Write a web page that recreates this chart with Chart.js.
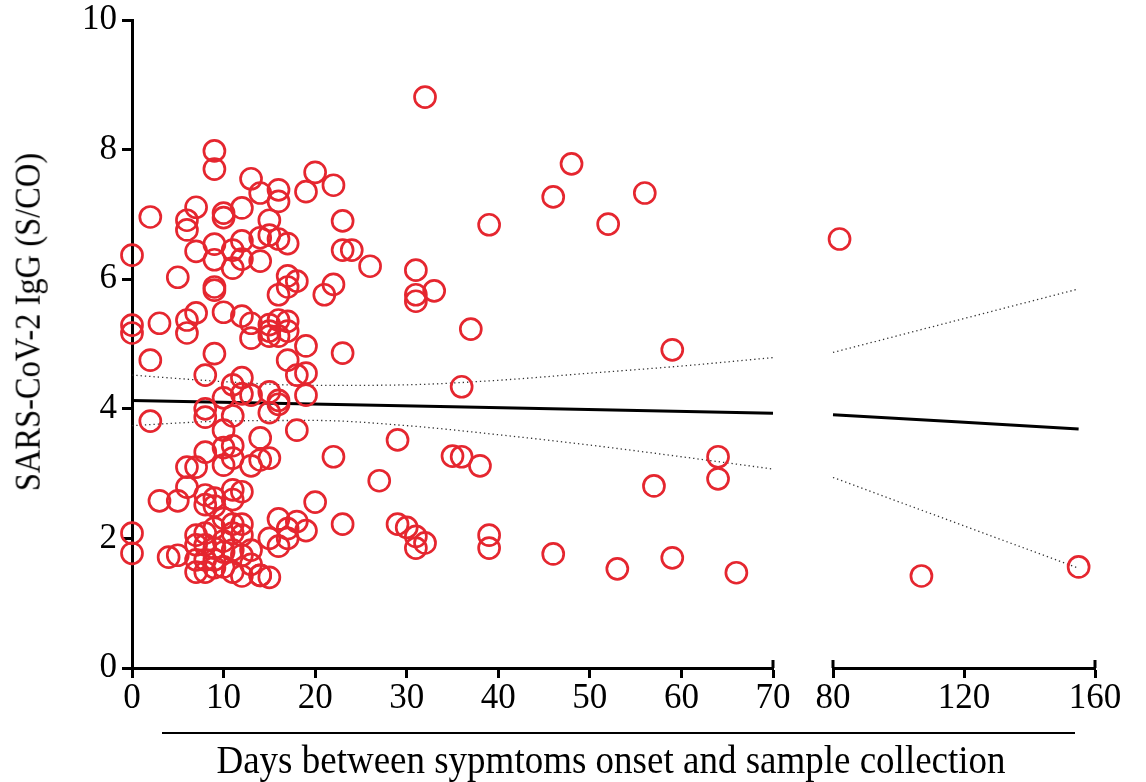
<!DOCTYPE html>
<html>
<head>
<meta charset="utf-8">
<script src="https://cdn.jsdelivr.net/npm/chart.js@4.4.1/dist/chart.umd.min.js"></script>
<style>
  html,body{margin:0;padding:0;background:#fff;}
  #wrap{position:relative;width:1146px;height:782px;background:#fff;overflow:hidden;font-family:"Liberation Serif","Times New Roman",serif;color:#000;}
  canvas{position:absolute;top:0;}
  #ytitle{position:absolute;left:28px;top:322px;white-space:nowrap;font-size:32.5px;transform:translate(-50%,-50%) rotate(-90deg) scaleY(1.1);}
  #rule{position:absolute;left:162px;top:732px;width:913px;height:2px;background:#000;}
  #xtitle{position:absolute;left:611px;top:759px;white-space:nowrap;font-size:37px;transform:translate(-50%,-50%) scaleY(1.1);}
</style>
</head>
<body>
<div id="wrap">
  <canvas id="c1" width="800" height="782" style="left:0"></canvas>
  <canvas id="c2" width="346" height="782" style="left:800px"></canvas>
  <div id="ytitle">SARS-CoV-2 IgG (S/CO)</div>
  <div id="rule"></div>
  <div id="xtitle">Days between sypmtoms onset and sample collection</div>
</div>
<script>
// Days between symptom onset and sample collection
const days = [
  9,9,0,2,6,7,6,10,10,12,13,14,16,16,20,19,22,23,23,24,26,21,22,
  9,7,9,11,12,12,14,14,15,17,16,15,5,9,9,10,11,16,17,17,18,
  0,0,3,6,6,7,2,9,12,13,13,15,15,15,16,16,17,17,19,17,18,19,23,
  37,36,59,32,39,46,48,56,52,31,31,31,33,
  2,8,8,8,10,11,12,12,13,11,10,8,6,7,10,10,11,11,13,14,14,15,15,15,16,16,18,19,22,29,27,35,36,38,64,64,57,
  3,5,6,8,9,8,9,11,11,12,20,0,0,4,5,
  7,7,7,7,8,8,8,8,9,9,9,9,10,10,10,10,11,11,11,11,12,12,12,12,13,13,14,14,15,15,16,16,17,17,18,19,23,29,30,31,31,32,39,39,46,53,59,66,
  82,107,155
];
// SARS-CoV-2 IgG (S/CO)
const igg = [
  7.98,7.70,6.37,6.96,6.91,7.11,6.76,7.02,6.95,7.10,7.55,7.33,7.38,7.20,7.65,7.35,7.45,6.90,6.45,6.45,6.20,5.76,5.92,
  6.54,6.43,6.30,6.45,6.59,6.31,6.28,6.64,6.68,6.55,6.62,6.91,6.03,5.83,5.88,5.49,6.17,5.76,5.88,6.05,5.97,
  5.29,5.17,5.32,5.37,5.17,5.48,4.75,4.85,5.43,5.32,5.09,5.30,5.20,5.12,5.37,5.12,5.35,5.20,4.97,4.75,4.52,4.55,4.86,
  5.23,4.34,4.91,8.81,6.84,7.27,7.78,7.33,6.85,6.14,5.76,5.66,5.82,
  3.81,4.52,4.00,3.87,4.17,4.37,4.48,4.23,4.21,3.89,3.67,3.33,3.10,3.10,3.40,3.13,3.24,3.43,3.12,3.55,3.21,3.24,4.26,3.94,4.07,4.13,3.67,4.21,3.26,3.52,2.89,3.27,3.26,3.12,3.26,2.92,2.81,
  2.58,2.58,2.79,2.52,2.50,2.67,2.62,2.60,2.75,2.72,2.56,2.08,1.77,1.71,1.74,
  2.05,1.90,1.67,1.48,2.08,1.90,1.67,1.48,2.16,1.85,1.67,1.55,2.31,1.96,1.79,1.56,2.22,2.08,1.82,1.48,2.22,2.05,1.74,1.42,1.82,1.60,1.43,1.43,1.40,2.00,2.30,1.88,2.15,2.00,2.26,2.12,2.22,2.22,2.17,2.03,1.85,1.93,2.05,1.85,1.76,1.53,1.70,1.47,
  6.62,1.42,1.56
];
// Linear fit and 95% confidence band
const fitDays   = [0, 70, 80, 155];
const fitValues = [4.13, 3.93, 3.91, 3.69];
const bandDaysLeft  = [0, 10, 20, 30, 40, 50, 60, 70];
const bandUpperLeft = [4.52, 4.42, 4.36, 4.37, 4.44, 4.55, 4.66, 4.79];
const bandLowerLeft = [3.74, 3.81, 3.82, 3.74, 3.60, 3.44, 3.26, 3.07];
const bandDaysRight  = [80, 155];
const bandUpperRight = [4.87, 5.85];
const bandLowerRight = [2.94, 1.54];
// Axis ticks
const xTicksLeft  = [0, 10, 20, 30, 40, 50, 60, 70];
const xTicksRight = [80, 120, 160];
const yTicks      = [0, 2, 4, 6, 8, 10];

const RED = '#E5262F';
const FONT = 'Liberation Serif';

const toPts = (xs, ys) => xs.map((x, i) => ({x, y: ys[i]}));
const allPts = toPts(days, igg);
const leftPts  = allPts.filter(p => p.x <= 70);
const rightPts = allPts.filter(p => p.x > 70);

function scatterSet(data){
  return {type:'scatter', data, showLine:false, pointStyle:'circle', pointRadius:10.5,
          pointBorderWidth:2.7, pointBorderColor:RED, pointBackgroundColor:'rgba(0,0,0,0)',
          clip:false, order:0};
}
function lineSet(data, solid){
  return {type:'scatter', data, showLine:true, pointRadius:0, borderColor: solid ? '#000' : '#333',
          borderWidth: solid ? 3 : 1.3, borderDash: solid ? [] : [1.3, 3], tension:0,
          cubicInterpolationMode:'monotone', clip:false, order:1};
}
// end caps of the broken x axis: short upward ticks at the segment ends
function capPlugin(values){
  return {id:'caps', afterDraw(chart){
    const s = chart.scales.x, ctx = chart.ctx, y0 = chart.chartArea.bottom;
    ctx.save(); ctx.strokeStyle = '#000'; ctx.lineWidth = 3;
    values.forEach(v => { const px = s.getPixelForValue(v);
      ctx.beginPath(); ctx.moveTo(px, y0 - 8); ctx.lineTo(px, y0); ctx.stroke(); });
    ctx.restore();
  }};
}
function xAxis(min, max, ticks){
  return {type:'linear', min, max, position:'bottom',
    afterBuildTicks: s => { s.ticks = ticks.map(v => ({value:v})); },
    afterFit: s => { s.height = 114; },
    ticks:{color:'#000', font:{family:FONT, size:35}, padding:0, maxRotation:0, autoSkip:false},
    grid:{display:true, drawOnChartArea:false, drawTicks:true, tickLength:10, tickColor:'#000', tickWidth:3},
    border:{display:true, color:'#000', width:3}};
}
const common = {
  responsive:false, animation:false, devicePixelRatio:1,
  plugins:{legend:{display:false}, tooltip:{enabled:false}},
  events:[]
};

new Chart(document.getElementById('c1'), {
  data:{datasets:[
    scatterSet(leftPts),
    lineSet(toPts(fitDays.slice(0,2), fitValues.slice(0,2)), true),
    lineSet(toPts(bandDaysLeft, bandUpperLeft), false),
    lineSet(toPts(bandDaysLeft, bandLowerLeft), false)
  ]},
  options:Object.assign({}, common, {
    layout:{padding:{left:0, right:27, top:20, bottom:0}},
    scales:{
      x: xAxis(0, 70, xTicksLeft),
      y: {type:'linear', min:0, max:10,
        afterBuildTicks: s => { s.ticks = yTicks.map(v => ({value:v})); },
        afterFit: s => { s.width = 132; s.paddingTop = 0; s.paddingBottom = 0; },
        ticks:{color:'#000', font:{family:FONT, size:35}, padding:5},
        grid:{display:true, drawOnChartArea:false, drawTicks:true, tickLength:10, tickColor:'#000', tickWidth:3},
        border:{display:true, color:'#000', width:3}}
    }
  }),
  plugins:[capPlugin([70])]
});

new Chart(document.getElementById('c2'), {
  data:{datasets:[
    scatterSet(rightPts),
    lineSet(toPts(fitDays.slice(2), fitValues.slice(2)), true),
    lineSet(toPts(bandDaysRight, bandUpperRight), false),
    lineSet(toPts(bandDaysRight, bandLowerRight), false)
  ]},
  options:Object.assign({}, common, {
    layout:{padding:{left:33, right:51, top:20, bottom:0}},
    scales:{
      x: xAxis(80, 160, xTicksRight),
      y: {type:'linear', min:0, max:10, display:false}
    }
  }),
  plugins:[capPlugin([80, 160])]
});
</script>
</body>
</html>
